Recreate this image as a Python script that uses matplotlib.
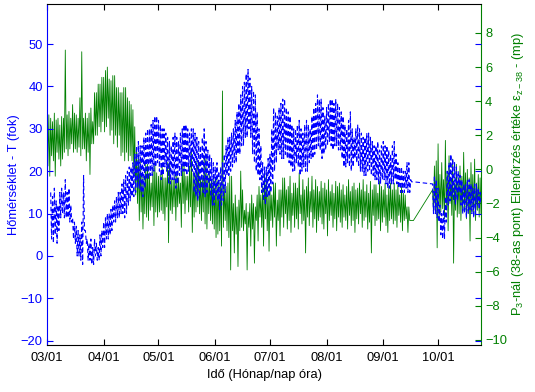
import numpy as np
import matplotlib
matplotlib.use("Agg")
import matplotlib.pyplot as plt
import matplotlib.dates as mdates
import datetime as dt

plt.rcParams['font.family'] = ['Liberation Sans', 'DejaVu Sans']
plt.rcParams['mathtext.fontset'] = 'custom'
plt.rcParams['mathtext.rm'] = 'Liberation Sans'
plt.rcParams['mathtext.default'] = 'regular'

# ---- data (daily max / min) ----
start_date = dt.datetime(2000, 3, 1)
end_date = dt.datetime(2000, 10, 24, 12)
days_a = list(range(0, 201))     # before the data gap
days_b = list(range(211, 238))   # after the data gap

temp_hi_a = [np.nan, np.nan, 15, 14, 16, 13, 12, 15, 16, 15,
             18, 15, 16, 12, 9, 8, 7, 6, 5, 8,
             19, 6, 4, 3, 4, 2, 4, 3, 2, 5,
             6, 8, 9, 10, 10, 11, 12, 13, 14, 15,
             15, 17, 18, 19, 20, 21, 21, 22, 24, 26,
             27, 26, 26, 28, 29, 30, 30, 31, 32, 33,
             33, 32, 31, 30, 30, 29, 28, 27, 26, 28,
             29, 28, 27, 29, 30, 31, 31, 30, 29, 30,
             30, 29, 28, 27, 26, 28, 30, 27, 25, 24,
             23, 22, 21, 22, 20, 21, 22, 24, 26, 28,
             28, 29, 30, 32, 34, 36, 38, 40, 41, 43,
             44, 42, 40, 39, 38, 34, 30, 26, 22, 21,
             21, 23, 24, 30, 35, 34, 33, 35, 36, 37,
             37, 35, 34, 33, 31, 30, 30, 31, 32, 30,
             29, 31, 32, 31, 30, 33, 35, 36, 38, 37,
             37, 35, 33, 35, 36, 37, 37, 36, 37, 36,
             35, 34, 33, 31, 30, 32, 34, 30, 28, 30,
             31, 30, 29, 28, 28, 29, 29, 28, 27, 26,
             26, 27, 25, 26, 27, 26, 26, 25, 24, 26,
             27, 24, 22, 21, 21, 20, 20, 22, 22, 18,
             17.5]
temp_lo_a = [np.nan, np.nan, 4, 3, 5, 3, 6, 9, 10, 9,
             9, 9, 8, 8, 4, 3, 0, 0, -1, -2,
             6, 3, -1, -1, -2, -2, 0, -1, -1, 0,
             2, 2, 4, 4, 5, 6, 8, 8, 9, 9,
             10, 10, 9, 10, 12, 13, 14, 14, 15, 16,
             16, 15, 14, 16, 18, 18, 19, 19, 20, 21,
             22, 20, 18, 19, 21, 20, 17, 17, 18, 18,
             16, 17, 19, 19, 20, 20, 19, 20, 21, 20,
             15, 14, 13, 14, 16, 15, 14, 15, 17, 14,
             12, 12, 14, 13, 11, 12, 13, 15, 19, 19,
             20, 21, 22, 22, 24, 24, 26, 26, 28, 28,
             30, 28, 24, 22, 20, 19, 18, 15, 13, 12,
             14, 14, 15, 17, 20, 22, 25, 24, 23, 23,
             24, 23, 22, 21, 20, 20, 22, 21, 19, 20,
             21, 20, 20, 22, 23, 23, 24, 25, 26, 25,
             23, 24, 25, 26, 27, 26, 25, 26, 26, 25,
             25, 23, 21, 21, 22, 21, 20, 21, 23, 22,
             21, 20, 20, 19, 19, 20, 20, 19, 19, 18,
             18, 17, 17, 18, 18, 17, 16, 16, 17, 17,
             18, 17, 16, 15, 15, 15, 16, 15, 15, 17.5,
             17.5]
temp_hi_b = [17, 19, 18, 16, 12, 10, 11, 14, 20, 22,
             24, 23, 22, 21, 20, 19, 18, 17, 17, 18,
             18, 17, 16, 17, 17, 16, 15]
temp_lo_b = [10, 10, 9, 8, 5, 4, 4, 8, 12, 13,
             14, 13, 12, 13, 15, 12, 10, 10, 9, 10,
             11, 10, 9, 10, 12, 11, 12]

check_hi_a = [2.8, 3.2, 3.0, 2.8, 3.3, 2.9, 3.0, 2.6, 3.1, 3.0,
              7.0, 3.2, 3.4, 3.0, 3.8, 3.3, 3.2, 3.0, 4.2, 6.9,
              3.0, 3.3, 3.0, 3.3, 3.6, 2.8, 4.5, 4.5, 5.0, 5.0,
              5.4, 5.4, 5.8, 6.0, 5.3, 5.2, 5.5, 5.5, 4.8, 4.8,
              4.5, 4.5, 4.8, 4.8, 4.2, 4.0, 3.8, 3.5, 2.5, 1.2,
              0.8, 0.5, -0.3, -0.5, 0.3, 0.3, -0.2, -0.8, 0.1, 0.4,
              -0.2, -0.4, -0.3, 0.2, -0.5, -0.5, 0.4, 0.4, -0.6, -0.6,
              -0.3, -0.3, -0.5, -0.8, 0.3, 0.3, -0.4, -0.4, 0.2, 1.0,
              -0.2, -0.2, 0.5, 0.5, -0.5, -0.5, 0.8, 0.8, -0.3, -0.3,
              -0.6, -0.6, -0.5, -0.5, -0.8, -0.8, 4.6, -1.0, -1.0, -0.8,
              -0.4, -0.4, -2.0, -1.5, -2.2, -1.8, -0.1, -1.2, -2.4, -2.0,
              -2.5, -2.0, -1.5, -2.0, -2.2, -1.5, -1.0, -1.5, -1.0, -0.2,
              -0.2, -1.3, -1.0, -1.5, -0.8, -0.8, -1.8, -1.2, -1.2, -0.5,
              -0.5, -1.2, -1.0, -0.4, -1.4, -0.8, -0.8, -1.1, -0.2, -1.5,
              -0.6, -1.2, -1.0, -0.5, -1.3, -0.4, -1.2, -0.6, -1.0, -1.3,
              -0.7, -1.1, -0.8, -1.2, -0.6, -1.3, -0.9, -1.4, -0.7, -1.0,
              -0.8, -1.2, -0.9, -1.5, -1.0, -0.6, -1.3, -1.0, -0.8, -1.2,
              -1.1, -0.8, -1.2, -0.6, -1.3, -0.9, -1.4, -0.7, -1.2, -0.9,
              -0.9, -1.4, -0.7, -1.0, -1.2, -0.8, -1.5, -1.0, -0.8, -1.2,
              -0.8, -1.2, -0.9, -1.5, -1.0, -1.4, -1.5, -2.2, -2.2, -3.0,
              -3.0]
check_lo_a = [0.2, -0.4, 0.8, 0.5, -0.4, 1.0, 0.6, 0.2, 0.6, 1.0,
              1.2, 0.8, 1.2, 1.5, 1.0, 1.2, 1.0, 1.3, 0.8, 1.2,
              1.2, 0.5, 1.0, -0.3, 1.5, 1.5, 2.0, 2.0, 2.5, 2.2,
              2.8, 2.2, 2.5, 3.0, 2.0, 2.3, 1.5, 2.0, 1.3, 2.0,
              0.8, 1.0, 0.5, 1.0, 0.5, 0.8, 0.5, -0.5, -1.5, -2.0,
              -3.0, -2.5, -3.5, -2.6, -2.8, -3.0, -2.4, -2.2, -3.3, -2.5,
              -2.8, -2.5, -2.4, -2.6, -3.0, -2.2, -4.3, -2.4, -2.6, -2.2,
              -3.0, -2.2, -2.0, -3.4, -2.0, -2.6, -1.8, -2.5, -2.2, -3.7,
              -2.8, -2.5, -2.2, -2.6, -3.0, -2.5, -3.2, -3.5, -2.6, -3.0,
              -3.2, -3.5, -4.0, -3.8, -3.6, -4.5, -3.4, -3.0, -3.6, -4.0,
              -5.9, -3.6, -4.9, -3.8, -5.7, -3.6, -3.4, -3.6, -3.2, -5.9,
              -3.4, -4.5, -3.5, -5.5, -3.0, -4.2, -2.8, -3.4, -4.5, -2.9,
              -3.6, -4.8, -3.0, -3.4, -2.8, -4.5, -3.0, -3.9, -2.8, -3.4,
              -2.6, -3.5, -3.0, -3.7, -2.7, -3.4, -2.9, -3.5, -2.6, -3.2,
              -3.0, -4.9, -2.8, -3.3, -2.5, -3.4, -2.9, -3.7, -3.0, -2.8,
              -3.2, -3.5, -2.6, -3.9, -3.0, -2.7, -3.4, -2.9, -3.6, -2.8,
              -3.1, -3.4, -2.8, -3.0, -3.5, -2.7, -3.3, -3.0, -3.7, -2.9,
              -3.2, -2.6, -3.4, -3.0, -2.8, -3.5, -3.1, -4.9, -2.7, -3.3,
              -3.0, -2.9, -3.6, -3.1, -2.8, -3.3, -3.7, -3.0, -2.9, -3.2,
              -3.0, -3.4, -2.7, -3.1, -3.6, -3.0, -2.9, -3.7, -3.0, -3.0,
              -3.0]
check_hi_b = [-1.2, 0.2, 0.5, 1.5, -0.3, 0.4, -0.6, 1.7, -0.2, 0.8,
              -0.5, 0.6, -0.8, 0.3, -0.5, 0.2, -0.4, 1.0, -0.2, 0.0,
              -0.5, 0.4, -0.3, 0.6, -0.8, -0.3, -0.5]
check_lo_b = [-2.6, -2.4, -4.6, -2.8, -2.5, -2.3, -2.9, -2.2, -3.6, -2.0,
              -2.7, -5.5, -2.4, -2.8, -2.6, -3.0, -2.5, -2.3, -2.9, -2.6,
              -4.2, -2.5, -2.7, -3.0, -2.4, -2.8, -2.6]

month_ticks = [3, 4, 5, 6, 7, 8, 9, 10]
left_ticks = [-20, -10, 0, 10, 20, 30, 40, 50]
right_ticks = [-10, -8, -6, -4, -2, 0, 2, 4, 6, 8]

# ---- build series: daily max at the start of the day, min half a day later ----
def series(days, hi, lo):
    tt, vv = [], []
    for d, h, l in zip(days, hi, lo):
        tt += [start_date + dt.timedelta(days=d), start_date + dt.timedelta(days=d + 0.5)]
        vv += [h, l]
    return tt, vv

t_T, temp = series(days_a + days_b, temp_hi_a + temp_hi_b, temp_lo_a + temp_lo_b)
t_E, check = series(days_a + days_b, check_hi_a + check_hi_b, check_lo_a + check_lo_b)

BLUE = (0, 0, 1)
GREEN = (0, 0.5, 0)

fig = plt.figure(figsize=(5.35, 3.92), dpi=100)
ax = fig.add_axes([0.0879, 0.1199, 0.8112, 0.8699])
ax2 = ax.twinx()

ax.plot(t_T, temp, color=BLUE, lw=0.8, ls='--', dashes=(4, 2.5))
ax2.plot(t_E, check, color=GREEN, lw=0.6)

ax.set_zorder(2)
ax.patch.set_visible(False)
ax2.set_zorder(1)

ax.set_xlim(start_date, end_date)
ax.set_ylim(-21.0, 59.45)
ax2.set_ylim(-10.3, 9.7)

ax.set_xticks([dt.datetime(2000, m, 1) for m in month_ticks])
ax.xaxis.set_major_formatter(mdates.DateFormatter('%m/%d'))
ax.set_yticks(left_ticks)
ax2.set_yticks(right_ticks)

fs = 9.3
ax.tick_params(axis='x', direction='in', top=True, length=4, width=0.8,
               labelsize=fs, colors='black', pad=5)
ax.tick_params(axis='y', direction='in', right=True, length=4, width=0.8,
               labelsize=fs, colors=BLUE, labelcolor=BLUE, pad=3)
ax2.tick_params(axis='y', direction='in', length=4, width=0.8,
                labelsize=fs, colors=GREEN, pad=3)

for s in ['top', 'bottom']:
    ax.spines[s].set_color('black')
    ax.spines[s].set_linewidth(0.8)
ax.spines['left'].set_color(BLUE)
ax.spines['left'].set_linewidth(0.8)
ax.spines['right'].set_visible(False)
ax2.spines['right'].set_color(GREEN)
ax2.spines['right'].set_linewidth(0.8)
for s in ['top', 'bottom', 'left']:
    ax2.spines[s].set_visible(False)

ax.set_xlabel('Idő (Hónap/nap óra)', fontsize=fs, color='black', labelpad=4)
ax.set_ylabel('Hőmérséklet - T (fok)', fontsize=fs, color=BLUE, labelpad=0.5)
ax2.set_ylabel('P$_3$-nál (38-as pont) Ellenőrzés értéke ε$_{z-38}$ - (mp)',
               fontsize=fs, color=GREEN, labelpad=2)

fig.savefig('out.png', dpi=100)
